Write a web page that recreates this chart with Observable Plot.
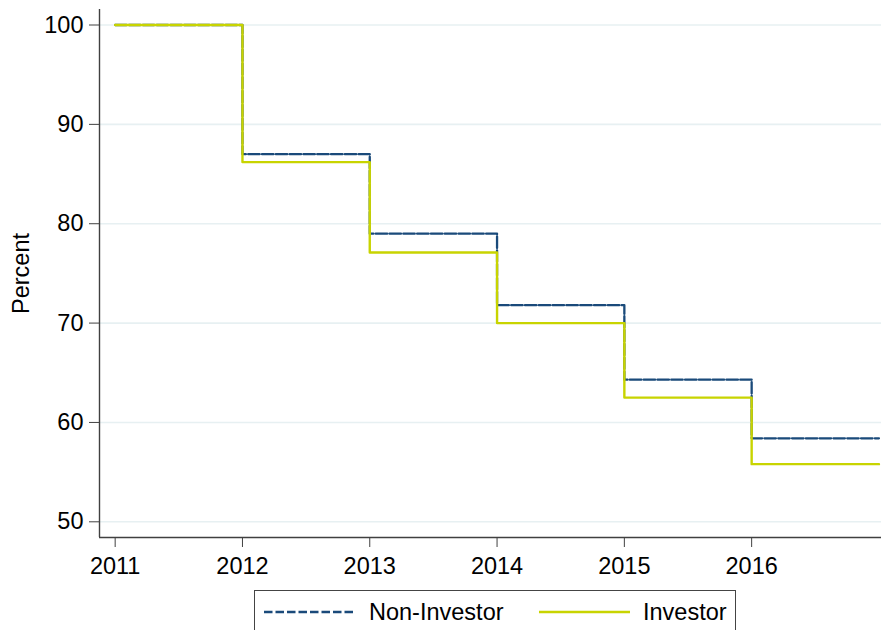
<!DOCTYPE html>
<html>
<head>
<meta charset="utf-8">
<script src="https://cdn.jsdelivr.net/npm/d3@7"></script>
<script src="https://cdn.jsdelivr.net/npm/@observablehq/plot@0.6"></script>
<style>
  html, body { margin: 0; padding: 0; background: #fff; }
  #wrap { position: relative; width: 881px; height: 630px; overflow: hidden; font-family: "Liberation Sans", Arial, sans-serif; }
  #legend { position: absolute; left: 254px; top: 590px; width: 482px; height: 60px; border: 1.5px solid #444; box-sizing: border-box; background: #fff; }
  #legend .item { position: absolute; top: 3px; height: 36px; display: flex; align-items: center; font-size: 23.5px; color: #000; }
</style>
</head>
<body>
<div id="wrap"></div>
<script>
const years = [2011, 2012, 2013, 2014, 2015, 2016];
const endYear = 2017;
const nonInvestor = [100, 87.0, 79.0, 71.8, 64.3, 58.4];
const investor = [100, 86.2, 77.1, 70.0, 62.5, 55.8];
const yTicks = [50, 60, 70, 80, 90, 100];
const xTicks = [2011, 2012, 2013, 2014, 2015, 2016];
const seriesNames = ["Non-Investor", "Investor"];
const colors = ["#1a4a7a", "#c8d400"];

const xDomain = [2010.877, 2017.02];
const yDomain = [48.42, 101.56];

function steps(vals) {
  const rows = years.map((y, i) => ({year: y, value: vals[i]}));
  rows.push({year: endYear, value: vals[vals.length - 1]});
  return rows;
}
const nonRows = steps(nonInvestor);
const invRows = steps(investor);

const chart = Plot.plot({
  width: 881,
  height: 580,
  marginLeft: 99,
  marginRight: 0,
  marginTop: 9,
  marginBottom: 43,
  style: {fontFamily: "Liberation Sans, Arial, sans-serif", fontSize: "23.5px", color: "#000", background: "#fff"},
  x: {domain: xDomain, ticks: xTicks, tickFormat: d => String(d)},
  y: {domain: yDomain, ticks: yTicks},
  marks: [
    Plot.gridY(yTicks, {stroke: "#e7f0f2", strokeOpacity: 1, strokeWidth: 1.6}),
    Plot.line(nonRows, {x: "year", y: "value", curve: "step-after", stroke: colors[0], strokeWidth: 2.3, strokeDasharray: "11.5,2.3"}),
    Plot.line(invRows, {x: "year", y: "value", curve: "step-after", stroke: colors[1], strokeWidth: 2.4}),
    Plot.ruleX([xDomain[0]], {stroke: "#404040", strokeWidth: 1.4}),
    Plot.ruleY([yDomain[0]], {stroke: "#404040", strokeWidth: 1.4}),
    Plot.axisX(xTicks, {tickSize: 10, tickPadding: 9.5, stroke: "#404040", fontSize: 23.5, label: null, tickFormat: d => String(d)}),
    Plot.axisY(yTicks, {tickSize: 10, tickPadding: 6, stroke: "#404040", fontSize: 23.5, label: "Percent", labelAnchor: "center", labelArrow: false, labelOffset: 87})
  ]
});
document.getElementById("wrap").appendChild(chart);

const legend = document.createElement("div");
legend.id = "legend";
const sampleX = [263 - 254, 538 - 254];
const textX = [368 - 254, 642 - 254];
const dashes = ["8.5,3", null];
seriesNames.forEach((name, i) => {
  const sw = document.createElementNS("http://www.w3.org/2000/svg", "svg");
  sw.setAttribute("width", "91");
  sw.setAttribute("height", "10");
  sw.style.position = "absolute";
  sw.style.left = sampleX[i] + "px";
  sw.style.top = "16px";
  const ln = document.createElementNS("http://www.w3.org/2000/svg", "line");
  ln.setAttribute("x1", 0); ln.setAttribute("x2", 91);
  ln.setAttribute("y1", 5); ln.setAttribute("y2", 5);
  ln.setAttribute("stroke", colors[i]);
  ln.setAttribute("stroke-width", i === 0 ? 2.3 : 2.4);
  if (dashes[i]) ln.setAttribute("stroke-dasharray", dashes[i]);
  sw.appendChild(ln);
  legend.appendChild(sw);
  const t = document.createElement("div");
  t.className = "item";
  t.style.left = textX[i] + "px";
  t.textContent = name;
  legend.appendChild(t);
});
document.getElementById("wrap").appendChild(legend);
</script>
</body>
</html>
